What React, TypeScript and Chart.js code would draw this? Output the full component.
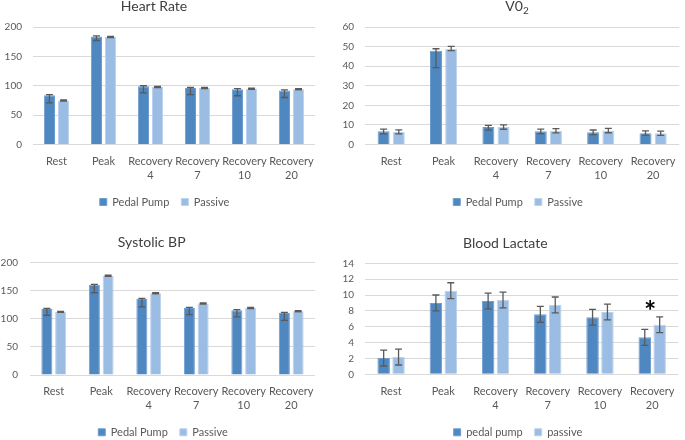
import React, { useEffect, useRef } from 'react';
import { Chart, registerables } from 'chart.js';

Chart.register(...registerables);

// ---------- data ----------
const categories: (string | string[])[] = ['Rest', 'Peak', ['Recovery', '4'], ['Recovery', '7'], ['Recovery', '10'], ['Recovery', '20']];

const hrPedal = [84, 184, 99, 96, 94, 92];
const hrPedalUp = [1, 1, 1, 1, 1, 1];
const hrPedalDown = [13, 7, 11, 11, 11, 12];
const hrPassive = [75, 183, 98, 96, 95, 94];
const hrPassiveUp = [1, 1, 1, 1, 1, 1];
const hrPassiveDown = [1, 1, 1, 1, 1, 1];
const hrTicks = { min: 0, max: 200, step: 50 };

const vo2Pedal = [6.8, 47.9, 8.9, 6.8, 6.2, 5.8];
const vo2PedalUp = [1.1, 1.0, 0.9, 1.1, 1.2, 1.2];
const vo2PedalDown = [1.4, 8.6, 1.6, 1.2, 1.2, 1.0];
const vo2Passive = [6.4, 48.8, 9.0, 7.0, 7.2, 5.7];
const vo2PassiveUp = [1.1, 1.3, 1.0, 1.1, 1.0, 1.1];
const vo2PassiveDown = [1.0, 0.9, 1.2, 1.1, 1.2, 1.0];
const vo2Ticks = { min: 0, max: 60, step: 10 };

const bpPedal = [117, 160, 135, 119, 115, 110];
const bpPedalUp = [1, 1, 1, 1, 1, 1];
const bpPedalDown = [11, 14, 14, 12, 12, 13];
const bpPassive = [112, 176, 145, 127, 119, 113];
const bpPassiveUp = [1, 1, 1, 1, 1, 1];
const bpPassiveDown = [1, 1, 1, 1, 1, 1];
const bpTicks = { min: 0, max: 200, step: 50 };

const laPedal = [2.05, 9.0, 9.25, 7.56, 7.2, 4.66];
const laPedalErr = [1.0, 1.0, 1.0, 1.0, 1.0, 1.0];
const laPassive = [2.17, 10.55, 9.37, 8.75, 7.86, 6.25];
const laPassiveErr = [1.0, 1.0, 1.0, 1.0, 1.0, 1.0];
const laSigMarks = ['', '', '', '', '', '*'];
const laSigLevel = [null, null, null, null, null, 8.75];
const laTicks = { min: 0, max: 14, step: 2 };

// ---------- styles ----------
const PEDAL_FILL = '#4f87c0';
const PEDAL_EDGE = '#6e9dd0';
const PASSIVE_FILL = '#9cbde3';
const PASSIVE_EDGE = '#bcd2ed';
const TEXT = '#595959';
const TITLE = '#404040';
const GRID = '#d9d9d9';
const FONT = 'Lato';

type Seg = { text: string; sub?: boolean };

type PanelSpec = {
  left: number; top: number; width: number; height: number;
  pad: { top: number; left: number; right: number; bottom: number };
  yWidth: number; yTickPad: number; xHeight: number; xTickPad: number;
  legendShift: number;
  title: Seg[]; titleX: number; titleY: number;
  labels: [string, string];
  values: [number[], number[]];
  up: [number[], number[]];
  down: [number[], number[]];
  ticks: { min: number; max: number; step: number };
  catPct: number; barPct: number;
  marks?: string[]; markLevel?: (number | null)[];
};

const errorBarsPlugin = {
  id: 'errorBars',
  afterDatasetsDraw(chart: any) {
    const ctx = chart.ctx;
    const y = chart.scales.y;
    ctx.save();
    ctx.strokeStyle = '#5a5a5a';
    ctx.lineWidth = 1.3;
    chart.data.datasets.forEach((ds: any, di: number) => {
      const meta = chart.getDatasetMeta(di);
      meta.data.forEach((bar: any, i: number) => {
        const v = ds.data[i];
        const yt = y.getPixelForValue(v + ds.errUp[i]);
        const yb = y.getPixelForValue(v - ds.errDown[i]);
        const x = bar.x;
        const c = 3.5;
        ctx.beginPath();
        ctx.moveTo(x, yt); ctx.lineTo(x, yb);
        ctx.moveTo(x - c, yt); ctx.lineTo(x + c, yt);
        ctx.moveTo(x - c, yb); ctx.lineTo(x + c, yb);
        ctx.stroke();
      });
    });
    ctx.restore();
  },
};

const titlePlugin = {
  id: 'panelTitle',
  afterDraw(chart: any, _args: any, opts: any) {
    const ctx = chart.ctx;
    const segs: Seg[] = opts.segs || [];
    ctx.save();
    ctx.fillStyle = TITLE;
    ctx.textBaseline = 'alphabetic';
    const big = `14px ${FONT}`;
    const small = `10px ${FONT}`;
    let total = 0;
    segs.forEach((s) => { ctx.font = s.sub ? small : big; total += ctx.measureText(s.text).width; });
    let x = opts.x - total / 2;
    segs.forEach((s) => {
      ctx.font = s.sub ? small : big;
      ctx.textAlign = 'left';
      ctx.fillText(s.text, x, opts.y + (s.sub ? 3 : 0));
      x += ctx.measureText(s.text).width;
    });
    ctx.restore();
  },
};

const legendShiftPlugin = {
  id: 'legendShift',
  afterLayout(chart: any, _args: any, opts: any) {
    const lg = chart.legend;
    if (!lg || !opts.dx) return;
    lg.left += opts.dx;
    lg.right += opts.dx;
  },
};

const marksPlugin = {
  id: 'sigMarks',
  afterDatasetsDraw(chart: any, _args: any, opts: any) {
    if (!opts.marks) return;
    const ctx = chart.ctx;
    const xs = chart.scales.x;
    const ys = chart.scales.y;
    ctx.save();
    ctx.fillStyle = '#000000';
    ctx.font = `bold 29px ${FONT}`;
    ctx.textAlign = 'center';
    ctx.textBaseline = 'alphabetic';
    opts.marks.forEach((m: string, i: number) => {
      const lvl = opts.level[i];
      if (!m || lvl == null) return;
      const met = ctx.measureText(m);
      const cy = ys.getPixelForValue(lvl);
      const base = cy + (met.actualBoundingBoxAscent - met.actualBoundingBoxDescent) / 2;
      ctx.fillText(m, xs.getPixelForValue(i) - 2, base);
    });
    ctx.restore();
  },
};

function Panel({ spec }: { spec: PanelSpec }) {
  const ref = useRef<HTMLCanvasElement>(null);
  useEffect(() => {
    if (!ref.current) return;
    const chart = new Chart(ref.current, {
      type: 'bar',
      data: {
        labels: categories as any,
        datasets: [0, 1].map((k) => ({
          label: spec.labels[k],
          data: spec.values[k],
          errUp: spec.up[k],
          errDown: spec.down[k],
          backgroundColor: k === 0 ? PEDAL_FILL : PASSIVE_FILL,
          borderColor: k === 0 ? PEDAL_EDGE : PASSIVE_EDGE,
          borderWidth: 1,
          categoryPercentage: spec.catPct,
          barPercentage: spec.barPct,
        })) as any,
      },
      options: {
        responsive: false,
        animation: false,
        layout: { padding: spec.pad },
        scales: {
          x: {
            grid: { display: false, drawTicks: false },
            border: { display: false },
            ticks: {
              color: TEXT,
              font: { family: FONT, size: 11, lineHeight: 1.27 },
              padding: spec.xTickPad,
              maxRotation: 0,
              minRotation: 0,
              autoSkip: false,
            },
            afterFit: (s: any) => { s.height = spec.xHeight; },
          },
          y: {
            min: spec.ticks.min,
            max: spec.ticks.max,
            grid: { color: GRID, lineWidth: 1, drawTicks: false },
            border: { display: false },
            ticks: {
              stepSize: spec.ticks.step,
              color: TEXT,
              font: { family: FONT, size: 10 },
              padding: spec.yTickPad,
            },
            afterFit: (s: any) => { s.width = spec.yWidth; },
          },
        },
        plugins: {
          legend: {
            position: 'bottom',
            labels: {
              color: TEXT,
              font: { family: FONT, size: 11 },
              boxWidth: 7,
              boxHeight: 7,
              padding: 12,
            },
          },
          title: { display: false },
          tooltip: { enabled: false },
          panelTitle: { segs: spec.title, x: spec.titleX, y: spec.titleY },
          legendShift: { dx: spec.legendShift },
          sigMarks: { marks: spec.marks, level: spec.markLevel },
        } as any,
      },
      plugins: [errorBarsPlugin, titlePlugin, legendShiftPlugin, marksPlugin],
    });
    return () => chart.destroy();
  }, [spec]);
  return (
    <canvas
      ref={ref}
      width={spec.width}
      height={spec.height}
      style={{ position: 'absolute', left: spec.left, top: spec.top, width: spec.width, height: spec.height }}
    />
  );
}

const panels: PanelSpec[] = [
  {
    left: 0, top: 0, width: 342, height: 220,
    pad: { top: 27, left: 0, right: 27, bottom: 2.5 },
    yWidth: 33, yTickPad: 11, xHeight: 40, xTickPad: 9.5, legendShift: 7,
    title: [{ text: 'Heart Rate' }], titleX: 154, titleY: 10.7,
    labels: ['Pedal Pump', 'Passive'],
    values: [hrPedal, hrPassive], up: [hrPedalUp, hrPassiveUp], down: [hrPedalDown, hrPassiveDown],
    ticks: hrTicks, catPct: 0.6, barPct: 0.79,
  },
  {
    left: 342, top: 0, width: 343, height: 220,
    pad: { top: 27, left: 0, right: 1, bottom: 2.5 },
    yWidth: 23, yTickPad: 11, xHeight: 40, xTickPad: 9.5, legendShift: 5,
    title: [{ text: 'V0' }, { text: '2', sub: true }], titleX: 175, titleY: 11,
    labels: ['Pedal Pump', 'Passive'],
    values: [vo2Pedal, vo2Passive], up: [vo2PedalUp, vo2PassiveUp], down: [vo2PedalDown, vo2PassiveDown],
    ticks: vo2Ticks, catPct: 0.58, barPct: 0.79,
  },
  {
    left: 0, top: 220, width: 342, height: 230,
    pad: { top: 42.3, left: 0, right: 27, bottom: 2.2 },
    yWidth: 30, yTickPad: 12, xHeight: 39.8, xTickPad: 9.7, legendShift: 5.5,
    title: [{ text: 'Systolic BP' }], titleX: 151.7, titleY: 27.3,
    labels: ['Pedal Pump', 'Passive'],
    values: [bpPedal, bpPassive], up: [bpPedalUp, bpPassiveUp], down: [bpPedalDown, bpPassiveDown],
    ticks: bpTicks, catPct: 0.58, barPct: 0.8,
  },
  {
    left: 342, top: 220, width: 343, height: 230,
    pad: { top: 43.3, left: 0, right: 1, bottom: 2.2 },
    yWidth: 23, yTickPad: 11, xHeight: 40.5, xTickPad: 10.4, legendShift: 5,
    title: [{ text: 'Blood Lactate' }], titleX: 163.3, titleY: 28,
    labels: ['pedal pump', 'passive'],
    values: [laPedal, laPassive], up: [laPedalErr, laPassiveErr], down: [laPedalErr, laPassiveErr],
    ticks: laTicks, catPct: 0.57, barPct: 0.84,
    marks: laSigMarks, markLevel: laSigLevel,
  },
];

export default function App() {
  return (
    <div style={{ position: 'fixed', left: 0, top: 0, width: 685, height: 440, overflow: 'hidden', background: '#ffffff' }}>
      {panels.map((p, i) => <Panel key={i} spec={p} />)}
    </div>
  );
}
